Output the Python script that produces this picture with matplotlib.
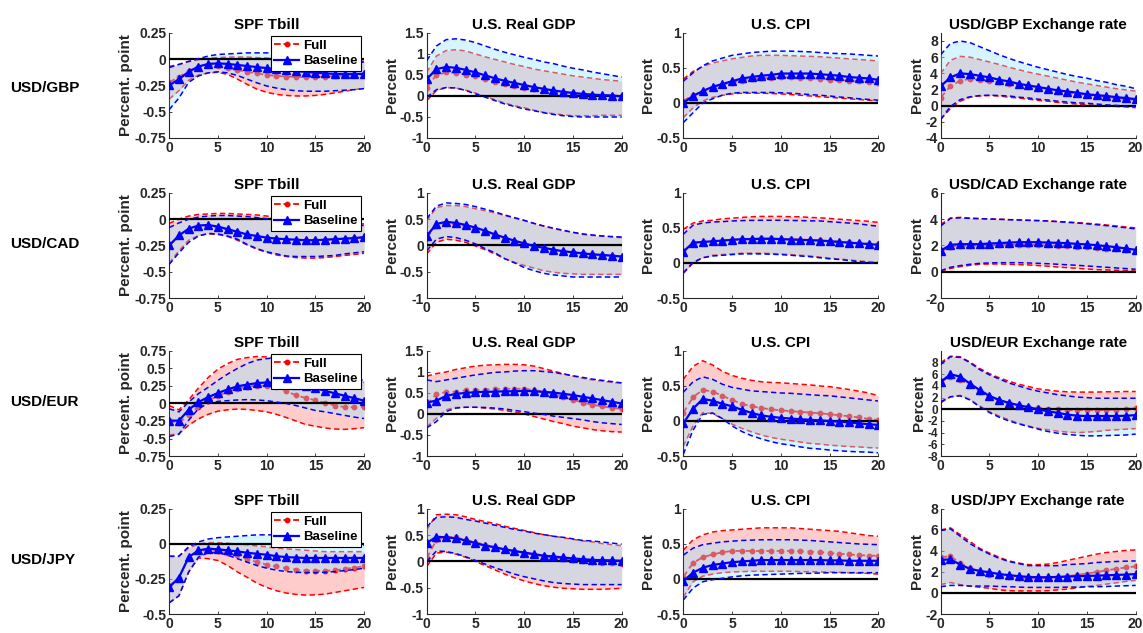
import numpy as np
import matplotlib
matplotlib.use("Agg")
import matplotlib.pyplot as plt
from matplotlib.lines import Line2D
from matplotlib.ticker import FuncFormatter

plt.rcParams["font.family"] = ["Liberation Sans", "DejaVu Sans"]
plt.rcParams["font.weight"] = "bold"

horizon = list(range(21))
rows = ["USD/GBP", "USD/CAD", "USD/EUR", "USD/JPY"]
titles = ["SPF Tbill", "U.S. Real GDP", "U.S. CPI", "Exchange rate"]

# ---------------- USD/GBP ----------------
gbp_tb_full_mid = [-0.22, -0.17, -0.11, -0.07, -0.06, -0.065, -0.085, -0.105, -0.12, -0.135, -0.15, -0.16, -0.165, -0.17, -0.17, -0.17, -0.165, -0.16, -0.155, -0.15, -0.145]
gbp_tb_full_lo = [-0.38, -0.3, -0.2, -0.15, -0.13, -0.125, -0.145, -0.19, -0.24, -0.285, -0.315, -0.335, -0.345, -0.35, -0.35, -0.345, -0.335, -0.32, -0.305, -0.29, -0.275]
gbp_tb_full_hi = [-0.07, -0.05, -0.025, -0.005, 0.01, 0.015, 0.02, 0.02, 0.02, 0.015, 0.01, 0.005, 0.0, -0.005, -0.01, -0.01, -0.015, -0.015, -0.02, -0.02, -0.02]
gbp_tb_base_mid = [-0.25, -0.19, -0.12, -0.07, -0.045, -0.04, -0.045, -0.055, -0.065, -0.075, -0.085, -0.095, -0.105, -0.115, -0.12, -0.13, -0.135, -0.14, -0.14, -0.14, -0.14]
gbp_tb_base_lo = [-0.48, -0.37, -0.22, -0.16, -0.13, -0.12, -0.13, -0.155, -0.19, -0.225, -0.255, -0.275, -0.29, -0.3, -0.305, -0.305, -0.305, -0.3, -0.295, -0.29, -0.28]
gbp_tb_base_hi = [-0.08, -0.05, -0.02, 0.005, 0.03, 0.045, 0.05, 0.055, 0.06, 0.06, 0.06, 0.055, 0.05, 0.04, 0.03, 0.02, 0.01, 0.0, -0.01, -0.02, -0.03]

gbp_gdp_full_mid = [0.2, 0.5, 0.56, 0.55, 0.51, 0.47, 0.4, 0.34, 0.28, 0.24, 0.2, 0.17, 0.13, 0.1, 0.08, 0.06, 0.04, 0.02, 0.01, 0.005, 0.0]
gbp_gdp_full_lo = [-0.11, 0.13, 0.2, 0.19, 0.14, 0.07, -0.01, -0.09, -0.17, -0.23, -0.28, -0.34, -0.39, -0.42, -0.45, -0.47, -0.47, -0.47, -0.46, -0.46, -0.46]
gbp_gdp_full_hi = [0.56, 0.95, 1.08, 1.1, 1.07, 1.0, 0.93, 0.87, 0.81, 0.75, 0.7, 0.64, 0.6, 0.56, 0.52, 0.48, 0.45, 0.42, 0.39, 0.37, 0.35]
gbp_gdp_base_mid = [0.4, 0.64, 0.69, 0.67, 0.62, 0.56, 0.49, 0.42, 0.36, 0.31, 0.26, 0.21, 0.17, 0.13, 0.1, 0.07, 0.05, 0.03, 0.02, 0.01, -0.01]
gbp_gdp_base_lo = [-0.03, 0.15, 0.2, 0.19, 0.13, 0.05, -0.03, -0.11, -0.19, -0.25, -0.31, -0.35, -0.4, -0.44, -0.47, -0.49, -0.5, -0.5, -0.5, -0.5, -0.5]
gbp_gdp_base_hi = [0.84, 1.19, 1.34, 1.36, 1.33, 1.27, 1.19, 1.11, 1.04, 0.98, 0.92, 0.87, 0.81, 0.77, 0.71, 0.66, 0.62, 0.57, 0.53, 0.49, 0.45]

gbp_cpi_full_mid = [0.03, 0.11, 0.17, 0.22, 0.26, 0.29, 0.32, 0.34, 0.35, 0.36, 0.365, 0.365, 0.36, 0.355, 0.345, 0.335, 0.325, 0.32, 0.31, 0.3, 0.29]
gbp_cpi_full_lo = [-0.21, -0.07, 0.03, 0.08, 0.11, 0.13, 0.14, 0.14, 0.14, 0.135, 0.13, 0.12, 0.11, 0.1, 0.09, 0.08, 0.07, 0.06, 0.05, 0.04, 0.03]
gbp_cpi_full_hi = [0.34, 0.45, 0.52, 0.57, 0.6, 0.63, 0.65, 0.67, 0.68, 0.68, 0.68, 0.675, 0.67, 0.665, 0.66, 0.65, 0.64, 0.63, 0.62, 0.61, 0.6]
gbp_cpi_base_mid = [0.0, 0.1, 0.17, 0.23, 0.27, 0.31, 0.35, 0.37, 0.39, 0.4, 0.42, 0.42, 0.42, 0.42, 0.41, 0.4, 0.39, 0.37, 0.36, 0.35, 0.33]
gbp_cpi_base_lo = [-0.28, -0.14, 0.0, 0.06, 0.11, 0.14, 0.15, 0.15, 0.15, 0.15, 0.145, 0.14, 0.13, 0.12, 0.11, 0.1, 0.085, 0.075, 0.06, 0.05, 0.04]
gbp_cpi_base_hi = [0.31, 0.43, 0.53, 0.6, 0.64, 0.68, 0.7, 0.72, 0.73, 0.74, 0.74, 0.74, 0.735, 0.73, 0.72, 0.71, 0.705, 0.7, 0.69, 0.68, 0.67]

gbp_fx_full_mid = [1.0, 2.4, 3.1, 3.3, 3.2, 3.1, 2.9, 2.7, 2.5, 2.3, 2.1, 1.9, 1.75, 1.6, 1.4, 1.3, 1.2, 1.05, 0.95, 0.8, 0.7]
gbp_fx_full_lo = [-1.7, -0.35, 0.55, 1.05, 1.2, 1.25, 1.2, 1.05, 0.95, 0.8, 0.65, 0.55, 0.4, 0.3, 0.2, 0.1, 0.03, -0.05, -0.1, -0.15, -0.25]
gbp_fx_full_hi = [4.0, 5.6, 6.1, 6.0, 5.7, 5.4, 5.1, 4.75, 4.45, 4.15, 3.9, 3.65, 3.4, 3.15, 2.9, 2.7, 2.5, 2.3, 2.1, 1.95, 1.8]
gbp_fx_base_mid = [2.4, 3.5, 4.0, 3.9, 3.7, 3.5, 3.2, 3.0, 2.7, 2.5, 2.3, 2.1, 1.9, 1.75, 1.6, 1.4, 1.3, 1.2, 1.05, 0.95, 0.8]
gbp_fx_base_lo = [-1.7, -0.1, 0.75, 1.1, 1.25, 1.3, 1.25, 1.2, 1.05, 0.95, 0.8, 0.7, 0.55, 0.45, 0.35, 0.3, 0.2, 0.1, 0.03, -0.05, -0.1]
gbp_fx_base_hi = [6.3, 7.7, 8.0, 7.8, 7.3, 6.8, 6.3, 5.85, 5.45, 5.1, 4.75, 4.45, 4.15, 3.85, 3.6, 3.4, 3.1, 2.9, 2.6, 2.4, 2.1]

# ---------------- USD/CAD ----------------
cad_tb_full_mid = [-0.25, -0.16, -0.1, -0.07, -0.065, -0.08, -0.1, -0.125, -0.15, -0.165, -0.18, -0.19, -0.195, -0.2, -0.2, -0.2, -0.195, -0.19, -0.185, -0.18, -0.175]
cad_tb_full_lo = [-0.42, -0.3, -0.2, -0.155, -0.14, -0.145, -0.165, -0.2, -0.245, -0.285, -0.315, -0.34, -0.355, -0.365, -0.37, -0.37, -0.365, -0.355, -0.345, -0.335, -0.325]
cad_tb_full_hi = [-0.04, 0.0, 0.03, 0.045, 0.05, 0.055, 0.055, 0.05, 0.045, 0.04, 0.03, 0.02, 0.01, 0.0, -0.01, -0.015, -0.02, -0.03, -0.035, -0.04, -0.045]
cad_tb_base_mid = [-0.25, -0.155, -0.09, -0.06, -0.055, -0.07, -0.095, -0.12, -0.145, -0.16, -0.175, -0.185, -0.19, -0.195, -0.2, -0.2, -0.195, -0.19, -0.185, -0.18, -0.17]
cad_tb_base_lo = [-0.43, -0.32, -0.22, -0.16, -0.135, -0.14, -0.16, -0.19, -0.24, -0.28, -0.31, -0.33, -0.35, -0.355, -0.355, -0.355, -0.35, -0.345, -0.33, -0.32, -0.31]
cad_tb_base_hi = [-0.08, -0.035, 0.0, 0.02, 0.03, 0.035, 0.035, 0.03, 0.025, 0.015, 0.005, -0.005, -0.015, -0.02, -0.03, -0.035, -0.04, -0.045, -0.05, -0.055, -0.06]

cad_gdp_full_mid = [0.15, 0.37, 0.41, 0.4, 0.37, 0.32, 0.26, 0.2, 0.14, 0.08, 0.03, -0.01, -0.05, -0.08, -0.11, -0.13, -0.15, -0.17, -0.18, -0.195, -0.21]
cad_gdp_full_lo = [-0.16, 0.06, 0.12, 0.1, 0.06, -0.01, -0.08, -0.16, -0.25, -0.32, -0.38, -0.43, -0.48, -0.51, -0.53, -0.54, -0.55, -0.55, -0.55, -0.55, -0.55]
cad_gdp_full_hi = [0.47, 0.72, 0.76, 0.76, 0.74, 0.7, 0.66, 0.62, 0.57, 0.52, 0.47, 0.42, 0.37, 0.32, 0.28, 0.25, 0.21, 0.19, 0.18, 0.16, 0.15]
cad_gdp_base_mid = [0.18, 0.41, 0.45, 0.43, 0.39, 0.34, 0.28, 0.21, 0.15, 0.09, 0.04, -0.01, -0.045, -0.08, -0.11, -0.13, -0.15, -0.17, -0.18, -0.195, -0.21]
cad_gdp_base_lo = [-0.1, 0.12, 0.17, 0.15, 0.1, 0.03, -0.06, -0.14, -0.25, -0.33, -0.42, -0.48, -0.53, -0.56, -0.58, -0.6, -0.6, -0.6, -0.6, -0.6, -0.6]
cad_gdp_base_hi = [0.51, 0.75, 0.81, 0.8, 0.78, 0.74, 0.69, 0.64, 0.58, 0.53, 0.48, 0.42, 0.37, 0.33, 0.29, 0.25, 0.22, 0.2, 0.18, 0.17, 0.16]

cad_cpi_full_mid = [0.17, 0.28, 0.3, 0.31, 0.32, 0.33, 0.34, 0.345, 0.35, 0.35, 0.345, 0.34, 0.335, 0.33, 0.325, 0.315, 0.305, 0.295, 0.285, 0.275, 0.265]
cad_cpi_full_lo = [-0.15, 0.0, 0.075, 0.11, 0.12, 0.13, 0.14, 0.14, 0.14, 0.135, 0.13, 0.12, 0.11, 0.1, 0.085, 0.07, 0.057, 0.045, 0.03, 0.02, 0.015]
cad_cpi_full_hi = [0.48, 0.57, 0.6, 0.61, 0.63, 0.64, 0.65, 0.66, 0.665, 0.665, 0.665, 0.66, 0.66, 0.65, 0.645, 0.635, 0.625, 0.615, 0.605, 0.595, 0.58]
cad_cpi_base_mid = [0.16, 0.29, 0.3, 0.31, 0.32, 0.33, 0.34, 0.34, 0.345, 0.345, 0.34, 0.335, 0.33, 0.325, 0.32, 0.31, 0.3, 0.29, 0.28, 0.27, 0.26]
cad_cpi_base_lo = [-0.14, 0.01, 0.075, 0.1, 0.11, 0.12, 0.13, 0.13, 0.13, 0.125, 0.12, 0.11, 0.1, 0.09, 0.075, 0.06, 0.05, 0.035, 0.02, 0.005, -0.005]
cad_cpi_base_hi = [0.41, 0.54, 0.57, 0.585, 0.59, 0.6, 0.605, 0.608, 0.61, 0.61, 0.61, 0.608, 0.605, 0.602, 0.6, 0.59, 0.58, 0.57, 0.56, 0.54, 0.525]

cad_fx_full_mid = [1.52, 1.92, 1.97, 1.98, 2.0, 2.02, 2.03, 2.04, 2.05, 2.05, 2.03, 2.01, 1.98, 1.95, 1.91, 1.87, 1.82, 1.76, 1.7, 1.63, 1.55]
cad_fx_full_lo = [0.04, 0.26, 0.39, 0.49, 0.57, 0.59, 0.59, 0.57, 0.54, 0.52, 0.47, 0.42, 0.36, 0.31, 0.26, 0.21, 0.16, 0.14, 0.11, 0.09, 0.06]
cad_fx_full_hi = [3.6, 4.09, 4.14, 4.08, 4.05, 4.02, 4.0, 3.97, 3.95, 3.92, 3.9, 3.87, 3.83, 3.79, 3.74, 3.69, 3.63, 3.56, 3.49, 3.41, 3.33]
cad_fx_base_mid = [1.6, 2.05, 2.1, 2.1, 2.1, 2.15, 2.18, 2.22, 2.25, 2.25, 2.25, 2.22, 2.2, 2.17, 2.12, 2.08, 2.02, 1.95, 1.87, 1.77, 1.67]
cad_fx_base_lo = [0.08, 0.34, 0.47, 0.57, 0.64, 0.67, 0.69, 0.69, 0.69, 0.67, 0.64, 0.61, 0.57, 0.53, 0.49, 0.44, 0.39, 0.34, 0.29, 0.24, 0.19]
cad_fx_base_hi = [3.48, 4.06, 4.11, 4.06, 4.04, 4.01, 3.99, 3.96, 3.94, 3.91, 3.89, 3.86, 3.81, 3.76, 3.71, 3.65, 3.58, 3.51, 3.43, 3.35, 3.26]

# ---------------- USD/EUR ----------------
eur_tb_full_mid = [-0.24, -0.28, -0.16, -0.045, 0.04, 0.11, 0.165, 0.21, 0.24, 0.255, 0.255, 0.235, 0.18, 0.115, 0.08, 0.045, 0.01, -0.03, -0.05, -0.055, -0.05]
eur_tb_full_lo = [-0.45, -0.43, -0.31, -0.22, -0.155, -0.11, -0.09, -0.08, -0.085, -0.1, -0.12, -0.155, -0.2, -0.25, -0.3, -0.325, -0.35, -0.365, -0.37, -0.36, -0.345]
eur_tb_full_hi = [-0.03, -0.09, 0.05, 0.22, 0.37, 0.49, 0.57, 0.63, 0.655, 0.67, 0.665, 0.645, 0.61, 0.57, 0.53, 0.49, 0.45, 0.41, 0.37, 0.33, 0.3]
eur_tb_base_mid = [-0.245, -0.245, -0.09, 0.02, 0.09, 0.15, 0.2, 0.245, 0.27, 0.29, 0.3, 0.3, 0.29, 0.27, 0.245, 0.22, 0.18, 0.145, 0.11, 0.075, 0.04]
eur_tb_base_lo = [-0.47, -0.44, -0.24, -0.075, 0.0, 0.03, 0.04, 0.05, 0.055, 0.05, 0.04, 0.02, 0.0, -0.03, -0.065, -0.1, -0.12, -0.145, -0.17, -0.195, -0.215]
eur_tb_base_hi = [-0.075, -0.12, 0.02, 0.14, 0.23, 0.33, 0.42, 0.5, 0.57, 0.62, 0.64, 0.655, 0.655, 0.645, 0.62, 0.58, 0.54, 0.49, 0.44, 0.38, 0.32]

eur_gdp_full_mid = [0.22, 0.48, 0.52, 0.53, 0.56, 0.57, 0.58, 0.59, 0.6, 0.6, 0.6, 0.57, 0.53, 0.47, 0.4, 0.34, 0.27, 0.22, 0.18, 0.15, 0.12]
eur_gdp_full_lo = [-0.31, -0.1, 0.1, 0.155, 0.16, 0.16, 0.14, 0.12, 0.085, 0.045, 0.0, -0.06, -0.12, -0.18, -0.23, -0.29, -0.33, -0.37, -0.4, -0.42, -0.43]
eur_gdp_full_hi = [0.9, 0.96, 1.0, 1.06, 1.1, 1.14, 1.16, 1.17, 1.18, 1.18, 1.17, 1.14, 1.08, 1.02, 0.96, 0.9, 0.85, 0.81, 0.78, 0.75, 0.73]
eur_gdp_base_mid = [0.27, 0.32, 0.43, 0.48, 0.5, 0.52, 0.525, 0.53, 0.54, 0.54, 0.55, 0.54, 0.525, 0.51, 0.48, 0.45, 0.41, 0.37, 0.33, 0.29, 0.25]
eur_gdp_base_lo = [-0.33, -0.18, 0.06, 0.14, 0.16, 0.16, 0.155, 0.14, 0.12, 0.085, 0.055, 0.02, -0.01, -0.05, -0.08, -0.11, -0.14, -0.18, -0.21, -0.23, -0.25]
eur_gdp_base_hi = [0.81, 0.77, 0.81, 0.85, 0.89, 0.93, 0.96, 0.99, 1.0, 1.02, 1.03, 1.03, 1.01, 0.99, 0.95, 0.91, 0.87, 0.83, 0.8, 0.77, 0.74]

eur_cpi_full_mid = [0.115, 0.34, 0.445, 0.42, 0.36, 0.3, 0.245, 0.21, 0.185, 0.166, 0.152, 0.14, 0.13, 0.12, 0.11, 0.096, 0.082, 0.068, 0.05, 0.03, 0.013]
eur_cpi_full_lo = [-0.36, -0.07, 0.12, 0.105, 0.035, -0.045, -0.105, -0.155, -0.2, -0.235, -0.26, -0.28, -0.3, -0.32, -0.33, -0.345, -0.355, -0.365, -0.37, -0.38, -0.385]
eur_cpi_full_hi = [0.595, 0.78, 0.86, 0.8, 0.71, 0.65, 0.61, 0.58, 0.56, 0.55, 0.545, 0.535, 0.525, 0.515, 0.5, 0.49, 0.47, 0.45, 0.425, 0.4, 0.36]
eur_cpi_base_mid = [-0.035, 0.175, 0.315, 0.29, 0.245, 0.21, 0.16, 0.115, 0.08, 0.06, 0.045, 0.035, 0.025, 0.017, 0.008, 0.0, -0.01, -0.02, -0.035, -0.045, -0.057]
eur_cpi_base_lo = [-0.475, -0.13, 0.095, 0.115, 0.035, -0.07, -0.15, -0.21, -0.255, -0.295, -0.325, -0.345, -0.37, -0.39, -0.4, -0.415, -0.425, -0.435, -0.44, -0.445, -0.455]
eur_cpi_base_hi = [0.41, 0.56, 0.63, 0.595, 0.525, 0.48, 0.455, 0.43, 0.42, 0.41, 0.4, 0.395, 0.385, 0.375, 0.365, 0.36, 0.345, 0.33, 0.315, 0.3, 0.285]

eur_fx_full_mid = [4.7, 5.6, 5.1, 4.1, 3.0, 2.15, 1.5, 1.0, 0.7, 0.45, 0.3, 0.1, 0.0, -0.1, -0.15, -0.15, -0.15, -0.1, -0.05, 0.05, 0.15]
eur_fx_full_lo = [1.1, 2.15, 2.4, 1.7, 0.55, -0.4, -1.15, -1.8, -2.4, -2.85, -3.25, -3.5, -3.75, -3.9, -4.0, -3.9, -3.8, -3.6, -3.5, -3.4, -3.3]
eur_fx_full_hi = [8.0, 9.1, 9.0, 8.1, 7.0, 6.1, 5.4, 4.8, 4.3, 3.9, 3.5, 3.3, 3.1, 3.0, 2.95, 2.95, 2.95, 3.0, 3.0, 3.05, 3.05]
eur_fx_base_mid = [4.7, 6.0, 5.6, 4.4, 3.3, 2.3, 1.6, 1.1, 0.7, 0.35, 0.0, -0.35, -0.6, -0.9, -1.1, -1.15, -1.15, -1.15, -1.15, -1.1, -1.0]
eur_fx_base_lo = [1.3, 2.15, 2.3, 1.6, 0.45, -0.55, -1.35, -2.0, -2.5, -2.95, -3.4, -3.8, -4.1, -4.3, -4.45, -4.55, -4.55, -4.5, -4.45, -4.4, -4.25]
eur_fx_base_hi = [7.7, 9.0, 8.9, 8.0, 6.8, 5.9, 5.2, 4.5, 4.0, 3.5, 3.1, 2.8, 2.5, 2.3, 2.1, 2.0, 1.9, 1.9, 1.9, 1.9, 1.9]

# ---------------- USD/JPY ----------------
jpy_tb_full_mid = [-0.3, -0.24, -0.1, -0.05, -0.045, -0.05, -0.065, -0.08, -0.105, -0.13, -0.147, -0.16, -0.173, -0.183, -0.19, -0.192, -0.192, -0.188, -0.178, -0.17, -0.158]
jpy_tb_full_lo = [-0.42, -0.37, -0.2, -0.1, -0.105, -0.118, -0.154, -0.2, -0.238, -0.28, -0.31, -0.334, -0.35, -0.36, -0.365, -0.363, -0.358, -0.346, -0.334, -0.322, -0.31]
jpy_tb_full_hi = [-0.09, -0.09, -0.03, 0.0, 0.01, 0.01, 0.005, 0.0, -0.005, -0.015, -0.02, -0.03, -0.035, -0.04, -0.045, -0.05, -0.055, -0.055, -0.055, -0.055, -0.055]
jpy_tb_base_mid = [-0.31, -0.24, -0.094, -0.046, -0.034, -0.038, -0.046, -0.053, -0.063, -0.07, -0.077, -0.087, -0.094, -0.097, -0.1, -0.1, -0.1, -0.1, -0.1, -0.1, -0.1]
jpy_tb_base_lo = [-0.42, -0.37, -0.2, -0.094, -0.062, -0.062, -0.08, -0.105, -0.13, -0.154, -0.173, -0.187, -0.197, -0.202, -0.204, -0.204, -0.202, -0.197, -0.19, -0.183, -0.173]
jpy_tb_base_hi = [-0.087, -0.087, -0.02, 0.014, 0.035, 0.045, 0.05, 0.055, 0.06, 0.065, 0.065, 0.065, 0.06, 0.055, 0.045, 0.035, 0.025, 0.015, 0.005, -0.005, -0.01]

jpy_gdp_full_mid = [0.06, 0.41, 0.47, 0.46, 0.41, 0.36, 0.32, 0.27, 0.23, 0.2, 0.16, 0.13, 0.1, 0.076, 0.05, 0.03, 0.013, -0.006, -0.02, -0.03, -0.045]
jpy_gdp_full_lo = [-0.095, 0.16, 0.18, 0.14, 0.08, 0.0, -0.08, -0.16, -0.24, -0.31, -0.37, -0.42, -0.46, -0.49, -0.51, -0.52, -0.53, -0.53, -0.53, -0.52, -0.51]
jpy_gdp_full_hi = [0.6, 0.89, 0.9, 0.89, 0.85, 0.8, 0.76, 0.72, 0.67, 0.63, 0.59, 0.55, 0.51, 0.48, 0.45, 0.42, 0.39, 0.37, 0.34, 0.32, 0.3]
jpy_gdp_base_mid = [0.35, 0.47, 0.46, 0.44, 0.4, 0.35, 0.3, 0.27, 0.23, 0.2, 0.17, 0.14, 0.11, 0.095, 0.076, 0.057, 0.044, 0.03, 0.025, 0.02, 0.013]
jpy_gdp_base_lo = [0.0, 0.2, 0.19, 0.15, 0.09, 0.02, -0.05, -0.12, -0.18, -0.24, -0.29, -0.33, -0.37, -0.4, -0.42, -0.43, -0.44, -0.44, -0.44, -0.44, -0.44]
jpy_gdp_base_hi = [0.66, 0.84, 0.85, 0.84, 0.8, 0.77, 0.73, 0.69, 0.65, 0.61, 0.58, 0.54, 0.51, 0.48, 0.46, 0.43, 0.4, 0.39, 0.37, 0.35, 0.33]

jpy_cpi_full_mid = [0.03, 0.23, 0.31, 0.35, 0.38, 0.4, 0.4, 0.4, 0.4, 0.4, 0.4, 0.4, 0.395, 0.39, 0.385, 0.37, 0.36, 0.35, 0.34, 0.335, 0.33]
jpy_cpi_full_lo = [-0.26, -0.04, 0.04, 0.07, 0.09, 0.1, 0.105, 0.11, 0.11, 0.11, 0.11, 0.11, 0.105, 0.105, 0.1, 0.1, 0.095, 0.09, 0.085, 0.08, 0.07]
jpy_cpi_full_hi = [0.41, 0.56, 0.63, 0.67, 0.69, 0.7, 0.71, 0.72, 0.73, 0.73, 0.73, 0.73, 0.72, 0.71, 0.7, 0.69, 0.68, 0.66, 0.64, 0.62, 0.61]
jpy_cpi_base_mid = [-0.03, 0.09, 0.16, 0.2, 0.22, 0.24, 0.25, 0.26, 0.27, 0.27, 0.27, 0.27, 0.27, 0.27, 0.27, 0.265, 0.265, 0.26, 0.26, 0.26, 0.26]
jpy_cpi_base_lo = [-0.3, -0.13, -0.04, -0.01, 0.01, 0.03, 0.045, 0.055, 0.06, 0.065, 0.07, 0.075, 0.08, 0.08, 0.085, 0.09, 0.09, 0.09, 0.09, 0.09, 0.09]
jpy_cpi_base_hi = [0.34, 0.44, 0.49, 0.51, 0.53, 0.54, 0.55, 0.555, 0.56, 0.56, 0.56, 0.56, 0.555, 0.55, 0.54, 0.53, 0.52, 0.51, 0.5, 0.495, 0.49]

jpy_fx_full_mid = [3.4, 3.5, 2.85, 2.4, 1.97, 1.75, 1.6, 1.5, 1.44, 1.4, 1.4, 1.44, 1.5, 1.6, 1.72, 1.85, 2.0, 2.15, 2.3, 2.43, 2.53]
jpy_fx_full_lo = [0.8, 1.0, 0.8, 0.65, 0.55, 0.45, 0.3, 0.22, 0.2, 0.2, 0.2, 0.22, 0.3, 0.37, 0.5, 0.62, 0.72, 0.85, 0.97, 1.1, 1.2]
jpy_fx_full_hi = [6.0, 6.2, 5.55, 4.9, 4.25, 3.8, 3.4, 3.05, 2.85, 2.7, 2.7, 2.75, 2.9, 3.1, 3.3, 3.5, 3.7, 3.85, 3.95, 4.05, 4.1]
jpy_fx_base_mid = [3.15, 3.2, 2.7, 2.3, 2.1, 1.97, 1.8, 1.7, 1.6, 1.53, 1.5, 1.5, 1.53, 1.56, 1.6, 1.62, 1.65, 1.68, 1.72, 1.75, 1.8]
jpy_fx_base_lo = [0.6, 0.72, 0.72, 0.66, 0.66, 0.66, 0.62, 0.6, 0.56, 0.53, 0.53, 0.53, 0.53, 0.56, 0.56, 0.6, 0.6, 0.62, 0.66, 0.69, 0.72]
jpy_fx_base_hi = [5.95, 6.1, 5.4, 4.7, 4.15, 3.7, 3.3, 3.0, 2.8, 2.6, 2.6, 2.6, 2.6, 2.7, 2.75, 2.8, 2.9, 2.95, 3.0, 3.03, 3.05]

# axis settings per column / row (limits and ticks)
tb_ticks = [[-0.75, 0.25], [-0.75, 0.25], [-0.75, 0.75], [-0.5, 0.25]]
gdp_ticks = [[-1, 1.5], [-1, 1], [-1, 1.5], [-1, 1]]
cpi_ticks = [[-0.5, 1], [-0.5, 1], [-0.5, 1], [-0.5, 1]]
fx_lims = [[-4, 9], [-2, 6], [-8, 10], [-2, 8]]
fx_tick_top = [8, 6, 8, 8]

data = {
    "gbp": [(gbp_tb_full_mid, gbp_tb_full_lo, gbp_tb_full_hi, gbp_tb_base_mid, gbp_tb_base_lo, gbp_tb_base_hi),
            (gbp_gdp_full_mid, gbp_gdp_full_lo, gbp_gdp_full_hi, gbp_gdp_base_mid, gbp_gdp_base_lo, gbp_gdp_base_hi),
            (gbp_cpi_full_mid, gbp_cpi_full_lo, gbp_cpi_full_hi, gbp_cpi_base_mid, gbp_cpi_base_lo, gbp_cpi_base_hi),
            (gbp_fx_full_mid, gbp_fx_full_lo, gbp_fx_full_hi, gbp_fx_base_mid, gbp_fx_base_lo, gbp_fx_base_hi)],
    "cad": [(cad_tb_full_mid, cad_tb_full_lo, cad_tb_full_hi, cad_tb_base_mid, cad_tb_base_lo, cad_tb_base_hi),
            (cad_gdp_full_mid, cad_gdp_full_lo, cad_gdp_full_hi, cad_gdp_base_mid, cad_gdp_base_lo, cad_gdp_base_hi),
            (cad_cpi_full_mid, cad_cpi_full_lo, cad_cpi_full_hi, cad_cpi_base_mid, cad_cpi_base_lo, cad_cpi_base_hi),
            (cad_fx_full_mid, cad_fx_full_lo, cad_fx_full_hi, cad_fx_base_mid, cad_fx_base_lo, cad_fx_base_hi)],
    "eur": [(eur_tb_full_mid, eur_tb_full_lo, eur_tb_full_hi, eur_tb_base_mid, eur_tb_base_lo, eur_tb_base_hi),
            (eur_gdp_full_mid, eur_gdp_full_lo, eur_gdp_full_hi, eur_gdp_base_mid, eur_gdp_base_lo, eur_gdp_base_hi),
            (eur_cpi_full_mid, eur_cpi_full_lo, eur_cpi_full_hi, eur_cpi_base_mid, eur_cpi_base_lo, eur_cpi_base_hi),
            (eur_fx_full_mid, eur_fx_full_lo, eur_fx_full_hi, eur_fx_base_mid, eur_fx_base_lo, eur_fx_base_hi)],
    "jpy": [(jpy_tb_full_mid, jpy_tb_full_lo, jpy_tb_full_hi, jpy_tb_base_mid, jpy_tb_base_lo, jpy_tb_base_hi),
            (jpy_gdp_full_mid, jpy_gdp_full_lo, jpy_gdp_full_hi, jpy_gdp_base_mid, jpy_gdp_base_lo, jpy_gdp_base_hi),
            (jpy_cpi_full_mid, jpy_cpi_full_lo, jpy_cpi_full_hi, jpy_cpi_base_mid, jpy_cpi_base_lo, jpy_cpi_base_hi),
            (jpy_fx_full_mid, jpy_fx_full_lo, jpy_fx_full_hi, jpy_fx_base_mid, jpy_fx_base_lo, jpy_fx_base_hi)],
}
keys = ["gbp", "cad", "eur", "jpy"]

RED_FILL = (1.0, 0.0, 0.0)
BLUE_FILL = (0.6, 0.9, 1.0)
TXT = "#262626"
DASH = (0, (3.5, 2.2))

fig = plt.figure(figsize=(11.43, 6.33), dpi=100)

lefts = [0.148, 0.3733, 0.5978, 0.823]
bottoms = [0.782, 0.5292, 0.2796, 0.030]
width = 0.1706
height = 0.166
row_label_y = [0.861, 0.6145, 0.365, 0.1153]


def fmt(v, pos):
    return "%g" % v


for r, key in enumerate(keys):
    fig.text(0.009, row_label_y[r], rows[r], fontsize=11, fontweight="bold",
             color="black", va="center", ha="left")
    for c in range(4):
        ax = fig.add_axes([lefts[c], bottoms[r], width, height])
        fm, fl, fh, bm, bl, bh = data[key][c]

        # Full specification (red)
        ax.fill_between(horizon, fl, fh, color=RED_FILL, alpha=0.2, lw=0, zorder=1)
        ax.plot(horizon, fl, color="red", ls=DASH, lw=1.1, zorder=2)
        ax.plot(horizon, fh, color="red", ls=DASH, lw=1.1, zorder=2)
        ax.plot(horizon, fm, color="red", ls=DASH, lw=1.3, marker="o",
                markersize=3.2, zorder=2)
        # Baseline (blue)
        ax.fill_between(horizon, bl, bh, color=BLUE_FILL, alpha=0.4, lw=0, zorder=3)
        ax.axhline(0, color="black", lw=1.6, zorder=4)
        ax.plot(horizon, bl, color="blue", ls=DASH, lw=1.1, zorder=5)
        ax.plot(horizon, bh, color="blue", ls=DASH, lw=1.1, zorder=5)
        ax.plot(horizon, bm, color="blue", lw=1.6, marker="^", markersize=6,
                zorder=6)

        ax.set_xlim(0, 20)
        ax.set_xticks([0, 5, 10, 15, 20])
        ysize = 10
        if c == 0:
            lo, hi = tb_ticks[r]
            ax.set_ylim(lo, hi)
            ax.set_yticks(np.arange(lo, hi + 0.01, 0.25))
            ax.set_ylabel("Percent. point", fontsize=11, fontweight="bold",
                          color=TXT, labelpad=1)
            ax.set_title(titles[0], fontsize=11, fontweight="bold", pad=3)
            handles = [Line2D([], [], color="red", ls="--", lw=1.3, marker="o", markersize=3.2),
                       Line2D([], [], color="blue", lw=1.6, marker="^", markersize=6)]
            leg = ax.legend(handles, ["Full", "Baseline"], loc="upper right",
                            frameon=True, fancybox=False,
                            edgecolor="black", framealpha=1, borderaxespad=0.25,
                            handlelength=1.9, handletextpad=0.3, borderpad=0.25,
                            labelspacing=0.25, prop={"weight": "bold", "size": 9.5})
            leg.get_frame().set_linewidth(0.8)
            leg.set_zorder(10)
        elif c == 1:
            lo, hi = gdp_ticks[r]
            ax.set_ylim(lo, hi)
            ax.set_yticks(np.arange(lo, hi + 0.01, 0.5))
            ax.set_ylabel("Percent", fontsize=11, fontweight="bold", color=TXT, labelpad=1)
            ax.set_title(titles[1], fontsize=11, fontweight="bold", pad=3)
        elif c == 2:
            lo, hi = cpi_ticks[r]
            ax.set_ylim(lo, hi)
            ax.set_yticks(np.arange(lo, hi + 0.01, 0.5))
            ax.set_ylabel("Percent", fontsize=11, fontweight="bold", color=TXT, labelpad=1)
            ax.set_title(titles[2], fontsize=11, fontweight="bold", pad=3)
        else:
            lo, hi = fx_lims[r]
            ax.set_ylim(lo, hi)
            ax.set_yticks(np.arange(lo, fx_tick_top[r] + 0.01, 2))
            ax.set_ylabel("Percent", fontsize=11, fontweight="bold", color=TXT, labelpad=1)
            ax.set_title(rows[r] + " " + titles[3], fontsize=11, fontweight="bold", pad=3)
            if hi - lo > 14:
                ysize = 8.5

        ax.yaxis.set_major_formatter(FuncFormatter(fmt))
        ax.tick_params(direction="in", length=2.5, width=0.6, labelsize=10,
                       colors=TXT, pad=2)
        ax.tick_params(axis="y", labelsize=ysize)
        for lab in ax.get_xticklabels() + ax.get_yticklabels():
            lab.set_fontweight("bold")
        ax.spines["top"].set_visible(False)
        ax.spines["right"].set_visible(False)
        for s in ["left", "bottom"]:
            ax.spines[s].set_color(TXT)
            ax.spines[s].set_linewidth(0.8)

fig.savefig("out.png", dpi=100)
